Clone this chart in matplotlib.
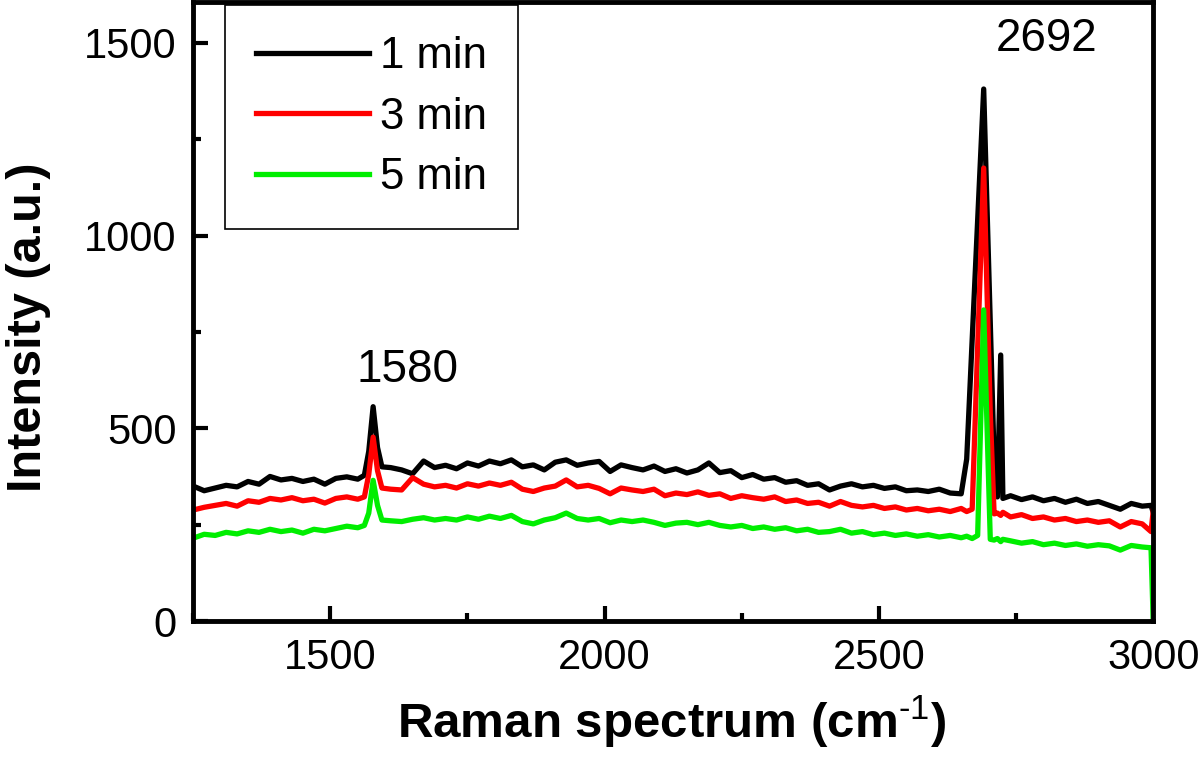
import matplotlib
matplotlib.use("Agg")
import matplotlib.pyplot as plt
from matplotlib.ticker import MultipleLocator

plt.rcParams['font.family'] = ['Liberation Sans', 'DejaVu Sans']
plt.rcParams['mathtext.fontset'] = 'custom'
plt.rcParams['mathtext.rm'] = 'Liberation Sans'
plt.rcParams['mathtext.bf'] = 'Liberation Sans:bold'

# Raman shift (cm-1), shared by all three spectra
wavenumber = [1250, 1270, 1290, 1310, 1330, 1350, 1370, 1390, 1410, 1430, 1450, 1470, 1490, 1510, 1530, 1550,
              1562, 1570, 1578, 1586, 1594,
              1610, 1630, 1650, 1670, 1690, 1710, 1730, 1750, 1770, 1790, 1810, 1830, 1850, 1870, 1890,
              1910, 1930, 1950, 1970, 1990, 2010, 2030, 2050, 2070, 2090, 2110, 2130, 2150, 2170, 2190,
              2210, 2230, 2250, 2270, 2290, 2310, 2330, 2350, 2370, 2390, 2410, 2430, 2450, 2470, 2490,
              2510, 2530, 2550, 2570, 2590, 2610, 2630, 2650,
              2660, 2670, 2680, 2691, 2703, 2710, 2716, 2722, 2726,
              2740, 2760, 2780, 2800, 2820, 2840, 2860, 2880, 2900, 2920, 2940, 2960, 2980, 2996, 3000]

int_1min = [350, 338, 345, 352, 348, 362, 355, 375, 366, 370, 362, 368, 355, 370, 374, 368,
            378, 440, 556, 450, 400,
            398, 392, 382, 415, 398, 404, 395, 410, 402, 415, 408, 418, 400, 405, 392,
            412, 418, 404, 410, 414, 388, 405, 398, 392, 402, 388, 395, 384, 392, 410,
            385, 390, 372, 380, 368, 372, 360, 364, 352, 356, 340, 350, 356, 348, 352,
            344, 348, 338, 340, 336, 342, 332, 330,
            420, 730, 1040, 1380, 774, 421, 322, 690, 318,
            325, 315, 322, 312, 318, 308, 316, 305, 310, 300, 290, 305, 298, 300, 282]

int_3min = [288, 295, 300, 305, 298, 312, 308, 318, 314, 320, 312, 316, 306, 318, 322, 316,
            322, 380, 477, 390, 345,
            342, 340, 372, 355, 348, 352, 345, 356, 350, 358, 352, 360, 342, 336, 345,
            350, 366, 348, 352, 344, 330, 345, 340, 336, 342, 325, 332, 328, 335, 326,
            330, 318, 325, 320, 316, 322, 310, 314, 305, 308, 298, 310, 300, 296, 300,
            292, 296, 288, 292, 286, 290, 284, 292,
            284, 290, 710, 1175, 540, 278, 280, 274, 282,
            270, 276, 266, 270, 262, 266, 258, 262, 256, 260, 244, 258, 252, 232, 285]

int_5min = [215, 225, 222, 230, 226, 234, 230, 238, 232, 236, 228, 238, 234, 240, 246, 242,
            248, 280, 365, 300, 262,
            260, 258, 264, 268, 262, 266, 262, 270, 264, 272, 266, 274, 258, 252, 262,
            268, 280, 266, 262, 266, 255, 262, 258, 262, 256, 248, 254, 256, 250, 256,
            248, 244, 248, 240, 244, 238, 242, 234, 238, 230, 232, 238, 228, 232, 224,
            228, 222, 226, 220, 224, 218, 222, 216,
            220, 214, 222, 807, 212, 210, 214, 206, 212,
            208, 202, 206, 198, 202, 196, 200, 194, 198, 195, 184, 196, 192, 190, 0]

series_labels = ['1 min', '3 min', '5 min']
series_colors = ['#000000', '#ff0000', '#00ee00']
peak_labels = ['1580', '2692']

fig = plt.figure(figsize=(12, 7.62), dpi=100)
ax = fig.add_axes([0.161, 0.185, 0.8, 0.812])

for vals, lab, col in zip([int_1min, int_3min, int_5min], series_labels, series_colors):
    ax.plot(wavenumber, vals, color=col, lw=3.8, label=lab, solid_joinstyle='round')

ax.set_xlim(1250, 3000)
ax.set_ylim(0, 1605)
ax.xaxis.set_major_locator(MultipleLocator(500))
ax.xaxis.set_minor_locator(MultipleLocator(250))
ax.yaxis.set_major_locator(MultipleLocator(500))
ax.yaxis.set_minor_locator(MultipleLocator(250))
ax.tick_params(which='major', direction='in', length=11, width=3, labelsize=30, pad=12)
ax.tick_params(which='minor', direction='in', length=6, width=3)
for sp in ax.spines.values():
    sp.set_linewidth(3.5)

# peak annotations
ax.text(1640, 650, peak_labels[0], fontsize=33, ha='center', va='center')
ax.text(2805, 1510, peak_labels[1], fontsize=33, ha='center', va='center')

leg = ax.legend(loc='upper left', bbox_to_anchor=(0.033, 0.995), borderaxespad=0,
                fontsize=31.5, handlelength=2.6, handletextpad=0.25, labelspacing=0.45,
                fancybox=False, framealpha=1, edgecolor='black', borderpad=0.7)
leg.get_frame().set_linewidth(1.2)

fig.text(0.56, 0.052, r'Raman spectrum (cm$^{\text{-}1}$)', fontsize=35.5, fontweight='bold',
         ha='center', va='center')
fig.text(0.024, 0.57, 'Intensity (a.u.)', fontsize=35, fontweight='bold',
         ha='center', va='center', rotation=90)

fig.savefig('out.png', dpi=100)
